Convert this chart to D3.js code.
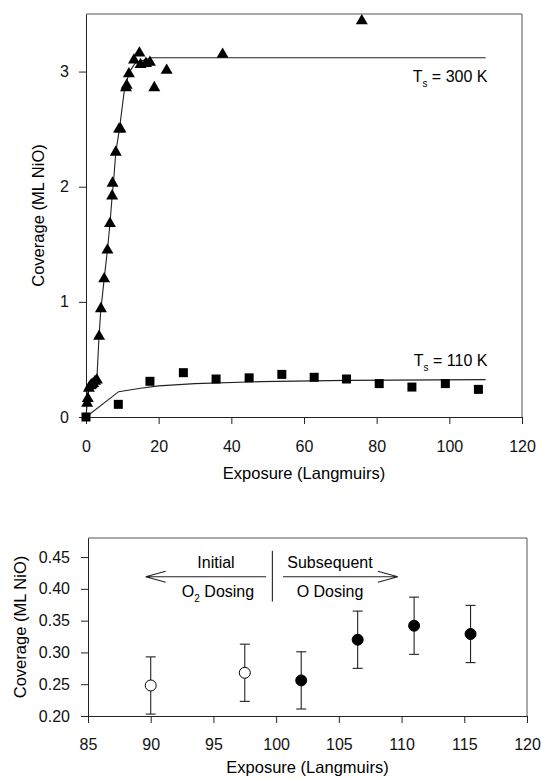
<!DOCTYPE html>
<html>
<head>
<meta charset="utf-8">
<script src="https://cdn.jsdelivr.net/npm/d3@7"></script>
<style>
  body { margin: 0; background: #fff; }
  svg { display: block; font-family: 'Liberation Sans', Arial, sans-serif; }
  .tick text { font-size: 16px; fill: #111; }
  .tick line, .domain { stroke: #222; }
</style>
</head>
<body>
<div class="chart-container"></div>
<script>
// top panel: coverage vs exposure at two surface temperatures
const xTicksTop = [0, 20, 40, 60, 80, 100, 120]
const yTicksTop = [0, 1, 2, 3]

const triX = [0.3, 0.5, 0.8, 1.2, 1.6, 2, 2.5, 3, 3.6, 4.1, 5.0, 5.9, 6.6, 7.2, 7.3, 8.2, 9.1, 9.5, 11.0, 11.2, 11.8, 13.2, 14.7, 15.0, 16.5, 17.6, 18.8, 22.2, 37.6, 75.9]
const triY = [0.12, 0.16, 0.25, 0.27, 0.28, 0.29, 0.31, 0.32, 0.70, 0.94, 1.20, 1.45, 1.68, 1.92, 2.03, 2.30, 2.50, 2.50, 2.86, 2.88, 2.98, 3.10, 3.16, 3.06, 3.07, 3.08, 2.86, 3.01, 3.15, 3.44]

const sqX = [0, 8.9, 17.6, 26.8, 35.8, 44.9, 53.9, 62.8, 71.7, 80.7, 89.7, 98.9, 108]
const sqY = [0, 0.11, 0.31, 0.385, 0.33, 0.34, 0.37, 0.345, 0.33, 0.29, 0.26, 0.29, 0.24]

// fitted curves
const fit300X = [0, 0.4, 0.8, 1.5, 2.5, 3, 3.5, 4, 5, 5.9, 6.6, 7.2, 7.6, 8.2, 9.2, 10.6, 12, 13.5, 16, 18, 110]
const fit300Y = [0, 0.15, 0.24, 0.27, 0.30, 0.33, 0.65, 0.9, 1.2, 1.45, 1.68, 1.92, 2.05, 2.3, 2.5, 2.85, 3.0, 3.07, 3.1, 3.12, 3.12]
const fit110X = [0, 9, 15, 20, 30, 48, 72, 110]
const fit110Y = [0, 0.22, 0.25, 0.27, 0.29, 0.307, 0.318, 0.325]

// bottom panel: initial O2 dosing vs subsequent O dosing
const xTicksBot = [85, 90, 95, 100, 105, 110, 115, 120]
const yTicksBot = [0.20, 0.25, 0.30, 0.35, 0.40, 0.45]
const dotX = [90, 97.5, 102, 106.5, 111, 115.5]
const dotY = [0.248, 0.268, 0.256, 0.320, 0.342, 0.329]
const dotErr = [0.045, 0.045, 0.045, 0.045, 0.045, 0.045]
const dotOpen = [true, true, false, false, false, false]

const width = 541
const height = 779

const svg = d3
    .select('.chart-container')
    .append('svg')
    .attr('width', width)
    .attr('height', height)

function drawFrame(x, y, xTicks, yTicks, fmt, xPad, yPad) {
    const [x0, x1] = x.range()
    const [y0, y1] = y.range()
    // light frame on top / right
    svg.append('path')
        .attr('d', `M${x0},${y1}H${x1}V${y0}`)
        .attr('fill', 'none')
        .attr('stroke', '#555')
        .attr('stroke-width', 1)

    svg.append('g')
        .attr('transform', `translate(0,${y0})`)
        .call(d3.axisBottom(x).tickValues(xTicks).tickSize(7).tickSizeOuter(0).tickPadding(xPad))

    svg.append('g')
        .attr('transform', `translate(${x0},0)`)
        .call(d3.axisLeft(y).tickValues(yTicks).tickSize(7).tickSizeOuter(0).tickPadding(yPad).tickFormat(fmt))
}

// ---------- top chart ----------
const x1 = d3.scaleLinear().domain([0, 120]).range([86, 522])
const y1 = d3.scaleLinear().domain([0, 3.5]).range([417, 14])

drawFrame(x1, y1, xTicksTop, yTicksTop, d3.format('d'), 17, 10)

const line1 = d3.line().x(d => x1(d[0])).y(d => y1(d[1]))

svg.append('path')
    .datum(d3.zip(fit300X, fit300Y))
    .attr('d', line1)
    .attr('fill', 'none')
    .attr('stroke', '#222')
    .attr('stroke-width', 1.1)

svg.append('path')
    .datum(d3.zip(fit110X, fit110Y))
    .attr('d', line1)
    .attr('fill', 'none')
    .attr('stroke', '#222')
    .attr('stroke-width', 1.1)

svg.append('g')
    .selectAll('path')
    .data(d3.zip(triX, triY))
    .enter()
    .append('path')
    .attr('d', d3.symbol(d3.symbolTriangle, 62))
    .attr('transform', d => `translate(${x1(d[0])},${y1(d[1])})`)
    .attr('fill', '#000')

svg.append('g')
    .selectAll('rect')
    .data(d3.zip(sqX, sqY))
    .enter()
    .append('rect')
    .attr('x', d => x1(d[0]) - 4.5)
    .attr('y', d => y1(d[1]) - 4.5)
    .attr('width', 9)
    .attr('height', 9)
    .attr('fill', '#000')

function tsLabel(xPos, yPos, rest) {
    const t = svg.append('text')
        .attr('x', xPos)
        .attr('y', yPos)
        .attr('text-anchor', 'end')
        .style('font-size', '16px')
    t.append('tspan').text('T')
    t.append('tspan').attr('dy', 5).style('font-size', '10px').text('s')
    t.append('tspan').attr('dy', -5).text(rest)
}
tsLabel(x1(110.5), y1(2.91), ' = 300 K')
tsLabel(x1(110.5), y1(0.44), ' = 110 K')

svg.append('text')
    .attr('x', (x1.range()[0] + x1.range()[1]) / 2)
    .attr('y', 479)
    .attr('text-anchor', 'middle')
    .style('font-size', '16.5px')
    .text('Exposure (Langmuirs)')

svg.append('text')
    .attr('transform', `translate(44,${(y1.range()[0] + y1.range()[1]) / 2}) rotate(-90)`)
    .attr('text-anchor', 'middle')
    .style('font-size', '16.5px')
    .text('Coverage (ML NiO)')

// ---------- bottom chart ----------
const x2 = d3.scaleLinear().domain([85, 120]).range([88, 527])
const y2 = d3.scaleLinear().domain([0.2, 0.48]).range([716, 538])

drawFrame(x2, y2, xTicksBot, yTicksBot, d3.format('.2f'), 16, 11)

const dots = d3.range(dotX.length).map(i => ({
    x: dotX[i], y: dotY[i], e: dotErr[i], open: dotOpen[i]
}))

const bars = svg.append('g').attr('stroke', '#222').attr('stroke-width', 1.1)
dots.forEach(d => {
    const cx = x2(d.x)
    bars.append('line').attr('x1', cx).attr('x2', cx).attr('y1', y2(d.y - d.e)).attr('y2', y2(d.y + d.e))
    bars.append('line').attr('x1', cx - 5).attr('x2', cx + 5).attr('y1', y2(d.y - d.e)).attr('y2', y2(d.y - d.e))
    bars.append('line').attr('x1', cx - 5).attr('x2', cx + 5).attr('y1', y2(d.y + d.e)).attr('y2', y2(d.y + d.e))
})

svg.append('g')
    .selectAll('circle')
    .data(dots)
    .enter()
    .append('circle')
    .attr('cx', d => x2(d.x))
    .attr('cy', d => y2(d.y))
    .attr('r', 5.5)
    .attr('fill', d => (d.open ? '#fff' : '#000'))
    .attr('stroke', '#000')
    .attr('stroke-width', 1)

// dosing annotation
const arrowY = y2(0.419)
const sepX = x2(99.7)
const ann = svg.append('g').attr('stroke', '#222').attr('stroke-width', 1.1).attr('fill', 'none')
ann.append('path').attr('d', `M${x2(99.2)},${arrowY}H${x2(89.6)}l20,-5.5M${x2(89.6)},${arrowY}l20,5.5`)
ann.append('path').attr('d', `M${x2(100.55)},${arrowY}H${x2(109.7)}l-20,-5.5M${x2(109.7)},${arrowY}l-20,5.5`)
ann.append('line').attr('x1', sepX).attr('x2', sepX).attr('y1', y2(0.46)).attr('y2', y2(0.38))

function annText(xPos, yPos, txt) {
    return svg.append('text')
        .attr('x', xPos)
        .attr('y', yPos)
        .attr('text-anchor', 'middle')
        .style('font-size', '16px')
        .text(txt)
}
annText(216, arrowY - 9, 'Initial')
annText(330, arrowY - 9, 'Subsequent')
annText(330, arrowY + 20, 'O Dosing')
const o2 = svg.append('text')
    .attr('x', 218)
    .attr('y', arrowY + 20)
    .attr('text-anchor', 'middle')
    .style('font-size', '16px')
o2.append('tspan').text('O')
o2.append('tspan').attr('dy', 5).style('font-size', '10px').text('2')
o2.append('tspan').attr('dy', -5).text(' Dosing')

svg.append('text')
    .attr('x', (x2.range()[0] + x2.range()[1]) / 2)
    .attr('y', 773)
    .attr('text-anchor', 'middle')
    .style('font-size', '16.5px')
    .text('Exposure (Langmuirs)')

svg.append('text')
    .attr('transform', `translate(26,${(y2.range()[0] + y2.range()[1]) / 2}) rotate(-90)`)
    .attr('text-anchor', 'middle')
    .style('font-size', '16.5px')
    .text('Coverage (ML NiO)')
</script>
</body>
</html>
